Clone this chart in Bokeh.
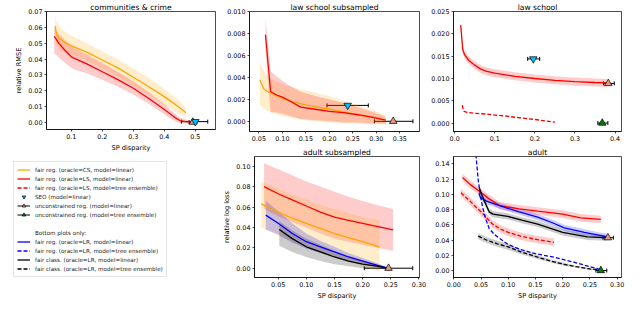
from bokeh.plotting import figure
from bokeh.models import (Range1d, FixedTicker, NumeralTickFormatter, Whisker, TeeHead,
                          ColumnDataSource, Legend, LegendItem)
from bokeh.layouts import row, column
from bokeh.embed import file_html
from bokeh.resources import INLINE

FONT = "DejaVu Sans"
TICK_FS = "6.4px"
LABEL_FS = "6.6px"
TITLE_FS = "7.6px"
LEG_FS = "5.6px"

C_CS = "#ffa500"
C_LS = "#ff0000"
C_LR = "#0000ff"
C_CL = "#000000"
C_SEO = "#00bfff"
C_UNC = "#e9967a"
C_UNC_T = "#008000"

# ---------------- communities & crime ----------------
cc_cs_x = [0.048, 0.052, 0.06, 0.075, 0.1, 0.15, 0.2, 0.25, 0.3, 0.35, 0.4, 0.44, 0.47]
cc_cs_y = [0.061, 0.056, 0.0535, 0.051, 0.0485, 0.0445, 0.0395, 0.0345, 0.0285, 0.0225, 0.0162, 0.0105, 0.0060]
cc_cs_lo = [0.053, 0.049, 0.047, 0.045, 0.043, 0.039, 0.034, 0.029, 0.023, 0.017, 0.011, 0.006, 0.003]
cc_cs_hi = [0.068, 0.064, 0.061, 0.058, 0.055, 0.050, 0.045, 0.040, 0.034, 0.028, 0.021, 0.015, 0.009]

cc_ls_x = [0.045, 0.05, 0.06, 0.08, 0.1, 0.11, 0.15, 0.2, 0.25, 0.3, 0.35, 0.4, 0.43, 0.45, 0.47, 0.49]
cc_ls_y = [0.0545, 0.0530, 0.0500, 0.0455, 0.0415, 0.0405, 0.0370, 0.0320, 0.0270, 0.0215, 0.0150, 0.0080, 0.0035, 0.0010, 0.0003, 0.0000]
cc_ls_lo = [0.0440, 0.0430, 0.0410, 0.0375, 0.0345, 0.0335, 0.0310, 0.0270, 0.0225, 0.0175, 0.0115, 0.0050, 0.0010, -0.0005, -0.0008, -0.0010]
cc_ls_hi = [0.0600, 0.0585, 0.0560, 0.0520, 0.0480, 0.0470, 0.0430, 0.0375, 0.0320, 0.0260, 0.0190, 0.0115, 0.0060, 0.0030, 0.0015, 0.0010]

cc_seo = dict(x=[0.500], y=[0.0003], xl=[0.455], xu=[0.540])
cc_unc = dict(x=[0.492], y=[0.0000], xl=[0.480], xu=[0.505])

# ---------------- law school subsampled ----------------
lss_ls_x = [0.064, 0.075, 0.088, 0.1, 0.114, 0.139, 0.17, 0.2, 0.23, 0.26, 0.288, 0.31, 0.32]
lss_ls_y = [0.0079, 0.0027, 0.0024, 0.0022, 0.0019, 0.0013, 0.0011, 0.0009, 0.0008, 0.0006, 0.0004, 0.0002, 0.0001]
lss_ls_lo = [0.0064, 0.0008, 0.0008, 0.0007, 0.0005, 0.0002, 0.0001, 0.0000, -0.0001, -0.0001, -0.0002, -0.0002, -0.0002]
lss_ls_hi = [0.0094, 0.0046, 0.0041, 0.0037, 0.0033, 0.0027, 0.0023, 0.0020, 0.0017, 0.0013, 0.0009, 0.0006, 0.0004]

lss_cs_x = [0.052, 0.06, 0.065, 0.08, 0.1, 0.12, 0.15, 0.2, 0.25, 0.3, 0.32]
lss_cs_y = [0.0038, 0.0030, 0.0028, 0.0025, 0.0021, 0.0018, 0.0015, 0.0011, 0.0007, 0.0003, 0.0001]
lss_cs_lo = [0.0015, 0.0012, 0.0010, 0.0008, 0.0005, 0.0003, 0.0001, -0.0001, -0.0002, -0.0003, -0.0003]
lss_cs_hi = [0.0053, 0.0047, 0.0043, 0.0038, 0.0034, 0.0031, 0.0028, 0.0023, 0.0016, 0.0009, 0.0005]

lss_seo = dict(x=[0.239], y=[0.00145], xl=[0.195], xu=[0.283])
lss_unc = dict(x=[0.336], y=[0.0], xl=[0.296], xu=[0.378])

# ---------------- law school ----------------
lsc_ls_x = [0.015, 0.02, 0.025, 0.035, 0.05, 0.065, 0.08, 0.1, 0.15, 0.2, 0.25, 0.3, 0.35, 0.38]
lsc_ls_y = [0.0220, 0.0165, 0.0153, 0.0141, 0.0130, 0.0121, 0.0116, 0.0112, 0.0105, 0.0100, 0.0096, 0.0093, 0.0091, 0.0090]
lsc_ls_lo = [0.0217, 0.0157, 0.0144, 0.0132, 0.0121, 0.0112, 0.0107, 0.0103, 0.0096, 0.0091, 0.0087, 0.0084, 0.0082, 0.0081]
lsc_ls_hi = [0.0223, 0.0173, 0.0162, 0.0150, 0.0139, 0.0130, 0.0125, 0.0121, 0.0114, 0.0109, 0.0105, 0.0102, 0.0100, 0.0099]

lsc_lst_x = [0.019, 0.022, 0.03, 0.05, 0.08, 0.1, 0.125, 0.15, 0.2, 0.25]
lsc_lst_y = [0.0040, 0.0027, 0.0024, 0.0022, 0.0020, 0.0018, 0.0016, 0.0013, 0.0008, 0.0002]

lsc_seo = dict(x=[0.196], y=[0.0144], xl=[0.182], xu=[0.212])
lsc_unc = dict(x=[0.383], y=[0.0089], xl=[0.371], xu=[0.398])
lsc_unc_t = dict(x=[0.368], y=[0.0], xl=[0.357], xu=[0.382])

# ---------------- adult subsampled ----------------
ads_ls_x = [0.025, 0.05, 0.075, 0.1, 0.125, 0.15, 0.175, 0.2, 0.225, 0.254]
ads_ls_y = [0.080, 0.073, 0.067, 0.061, 0.055, 0.050, 0.047, 0.044, 0.041, 0.0375]
ads_ls_lo = [0.058, 0.051, 0.045, 0.040, 0.034, 0.029, 0.026, 0.023, 0.020, 0.017]
ads_ls_hi = [0.103, 0.097, 0.091, 0.085, 0.080, 0.075, 0.070, 0.066, 0.062, 0.058]

ads_cs_x = [0.02, 0.05, 0.075, 0.1, 0.125, 0.15, 0.175, 0.2, 0.23]
ads_cs_y = [0.063, 0.055, 0.049, 0.044, 0.039, 0.034, 0.030, 0.026, 0.021]
ads_cs_lo = [0.040, 0.032, 0.026, 0.020, 0.015, 0.010, 0.006, 0.002, -0.003]
ads_cs_hi = [0.085, 0.078, 0.072, 0.067, 0.062, 0.058, 0.054, 0.050, 0.047]

ads_lr_x = [0.028, 0.05, 0.075, 0.1, 0.125, 0.15, 0.175, 0.2, 0.225, 0.245]
ads_lr_y = [0.052, 0.044, 0.034, 0.026, 0.021, 0.016, 0.011, 0.007, 0.003, 0.0]
ads_lr_lo = [0.038, 0.033, 0.025, 0.019, 0.015, 0.011, 0.007, 0.004, 0.001, -0.001]
ads_lr_hi = [0.066, 0.056, 0.044, 0.034, 0.027, 0.021, 0.015, 0.010, 0.005, 0.001]

ads_cl_x = [0.052, 0.075, 0.1, 0.125, 0.15, 0.175, 0.2, 0.225, 0.243]
ads_cl_y = [0.038, 0.029, 0.021, 0.016, 0.011, 0.007, 0.004, 0.002, 0.0]
ads_cl_lo = [0.022, 0.016, 0.011, 0.007, 0.004, 0.002, 0.000, -0.001, -0.001]
ads_cl_hi = [0.046, 0.037, 0.029, 0.023, 0.017, 0.012, 0.008, 0.004, 0.001]

ads_unc = dict(x=[0.246], y=[0.0], xl=[0.203], xu=[0.289])

# ---------------- adult ----------------
ad_ls_x = [0.016, 0.03, 0.047, 0.065, 0.085, 0.12, 0.154, 0.2, 0.233, 0.27]
ad_ls_y = [0.122, 0.113, 0.104, 0.094, 0.085, 0.081, 0.078, 0.074, 0.069, 0.067]
ad_ls_lo = [0.117, 0.108, 0.099, 0.089, 0.080, 0.076, 0.073, 0.069, 0.064, 0.062]
ad_ls_hi = [0.127, 0.118, 0.109, 0.099, 0.090, 0.086, 0.083, 0.079, 0.074, 0.072]

ad_lst_x = [0.013, 0.03, 0.041, 0.05, 0.071, 0.087, 0.1, 0.123, 0.15, 0.184]
ad_lst_y = [0.102, 0.091, 0.083, 0.077, 0.061, 0.054, 0.050, 0.045, 0.041, 0.037]
ad_lst_lo = [0.097, 0.086, 0.078, 0.072, 0.056, 0.049, 0.045, 0.040, 0.036, 0.032]
ad_lst_hi = [0.107, 0.096, 0.088, 0.082, 0.066, 0.059, 0.055, 0.050, 0.046, 0.042]

ad_lr_x = [0.046, 0.049, 0.06, 0.084, 0.12, 0.154, 0.18, 0.203, 0.24, 0.282]
ad_lr_y = [0.101, 0.096, 0.091, 0.085, 0.077, 0.070, 0.063, 0.056, 0.050, 0.044]
ad_lr_lo = [0.097, 0.092, 0.087, 0.081, 0.073, 0.066, 0.059, 0.052, 0.046, 0.040]
ad_lr_hi = [0.105, 0.100, 0.095, 0.089, 0.081, 0.074, 0.067, 0.060, 0.054, 0.048]

ad_lrt_x = [0.040, 0.041, 0.045, 0.049, 0.053, 0.059, 0.065, 0.075, 0.1, 0.125, 0.15, 0.184, 0.22, 0.25, 0.27]
ad_lrt_y = [0.160, 0.149, 0.118, 0.098, 0.083, 0.067, 0.055, 0.047, 0.034, 0.027, 0.022, 0.0175, 0.011, 0.005, 0.001]

ad_cl_x = [0.047, 0.055, 0.065, 0.072, 0.099, 0.125, 0.154, 0.2, 0.245, 0.279]
ad_cl_y = [0.108, 0.093, 0.077, 0.074, 0.071, 0.066, 0.061, 0.050, 0.044, 0.043]
ad_cl_lo = [0.104, 0.089, 0.073, 0.070, 0.067, 0.062, 0.057, 0.046, 0.040, 0.039]
ad_cl_hi = [0.112, 0.097, 0.081, 0.078, 0.075, 0.070, 0.065, 0.054, 0.048, 0.047]

ad_clt_x = [0.045, 0.06, 0.08, 0.1, 0.125, 0.154, 0.175, 0.203, 0.225, 0.25, 0.265]
ad_clt_y = [0.045, 0.040, 0.035, 0.031, 0.024, 0.0175, 0.013, 0.008, 0.005, 0.002, 0.001]
ad_clt_lo = [0.041, 0.036, 0.031, 0.027, 0.021, 0.015, 0.011, 0.006, 0.004, 0.001, 0.000]
ad_clt_hi = [0.049, 0.044, 0.039, 0.035, 0.027, 0.020, 0.015, 0.010, 0.006, 0.003, 0.002]

ad_unc = dict(x=[0.283], y=[0.043], xl=[0.274], xu=[0.293])
ad_unc_t = dict(x=[0.270], y=[0.0], xl=[0.261], xu=[0.281])

# ---------------- axes: ranges and ticks ----------------
cc_xr, cc_yr = (0.02, 0.565), (-0.0047, 0.0703)
lss_xr, lss_yr = (0.030, 0.392), (-0.00093, 0.01002)
lsc_xr, lsc_yr = (-0.003, 0.416), (-0.0019, 0.02505)
ads_xr, ads_yr = (0.008, 0.301), (-0.0091, 0.1095)
ad_xr, ad_yr = (-0.0005, 0.308), (-0.0092, 0.1496)

cc_xt = [0.1, 0.2, 0.3, 0.4, 0.5]
cc_yt = [0.0, 0.01, 0.02, 0.03, 0.04, 0.05, 0.06, 0.07]
lss_xt = [0.05, 0.10, 0.15, 0.20, 0.25, 0.30, 0.35]
lss_yt = [0.0, 0.002, 0.004, 0.006, 0.008, 0.010]
lsc_xt = [0.0, 0.1, 0.2, 0.3, 0.4]
lsc_yt = [0.0, 0.005, 0.010, 0.015, 0.020, 0.025]
ads_xt = [0.05, 0.10, 0.15, 0.20, 0.25, 0.30]
ads_yt = [0.0, 0.02, 0.04, 0.06, 0.08, 0.10]
ad_xt = [0.0, 0.05, 0.10, 0.15, 0.20, 0.25, 0.30]
ad_yt = [0.0, 0.02, 0.04, 0.06, 0.08, 0.10, 0.12, 0.14]


def no_align(p):
    try:
        p.frame_align = False
    except Exception:
        pass


def make_panel(width, height, borders, xr, yr, title, xt, xfmt, yt, yfmt, xlabel=None, ylabel=None):
    l, r, t, b = borders
    p = figure(width=width, height=height, x_range=Range1d(*xr), y_range=Range1d(*yr),
               output_backend="svg", toolbar_location=None, title=title,
               min_border_left=l, min_border_right=r, min_border_top=t, min_border_bottom=b)
    no_align(p)
    p.title.text_font = FONT
    p.title.text_font_size = TITLE_FS
    p.title.text_font_style = "normal"
    p.title.text_color = "black"
    p.title.align = "center"
    p.title.standoff = 0
    p.xgrid.visible = False
    p.ygrid.visible = False
    p.outline_line_color = "black"
    p.outline_line_width = 0.7
    p.outline_line_alpha = 1.0
    p.background_fill_color = "white"
    p.border_fill_color = "white"
    for ax in (p.xaxis[0], p.yaxis[0]):
        ax.major_tick_out = 2
        ax.major_tick_in = 0
        ax.minor_tick_out = 0
        ax.minor_tick_in = 0
        ax.major_tick_line_color = "black"
        ax.major_tick_line_width = 0.7
        ax.axis_line_color = "black"
        ax.axis_line_width = 0.7
        ax.major_label_text_font = FONT
        ax.major_label_text_font_size = TICK_FS
        ax.major_label_text_color = "black"
        ax.major_label_standoff = 2
        ax.axis_label_text_font = FONT
        ax.axis_label_text_font_size = LABEL_FS
        ax.axis_label_text_font_style = "normal"
        ax.axis_label_text_color = "black"
        ax.axis_label_standoff = 2
    p.xaxis[0].ticker = FixedTicker(ticks=xt)
    p.xaxis[0].formatter = NumeralTickFormatter(format=xfmt)
    p.yaxis[0].ticker = FixedTicker(ticks=yt)
    p.yaxis[0].formatter = NumeralTickFormatter(format=yfmt)
    if xlabel:
        p.xaxis[0].axis_label = xlabel
    if ylabel:
        p.yaxis[0].axis_label = ylabel
    return p


def band(p, x, lo, hi, color):
    p.varea(x=x, y1=lo, y2=hi, fill_color=color, fill_alpha=0.2)


def curve(p, x, y, color, dash="solid"):
    p.line(x, y, line_color=color, line_width=1.3, line_dash=dash)


def errpt(p, d, marker, color, size=7.5):
    src = ColumnDataSource(d)
    head = dict(size=4, line_color="black", line_width=1)
    w = Whisker(base="y", lower="xl", upper="xu", dimension="width", source=src,
                line_color="black", line_width=1,
                upper_head=TeeHead(**head), lower_head=TeeHead(**head))
    p.add_layout(w)
    p.scatter("x", "y", source=src, marker=marker, size=size, fill_color=color,
              line_color="black", line_width=0.7)


DASH = "4 2"

# communities & crime
f1 = make_panel(220, 154, (46, 5, 10, 23), cc_xr, cc_yr, "communities & crime",
                cc_xt, "0.0", cc_yt, "0.00", xlabel="SP disparity", ylabel="relative RMSE")
band(f1, cc_cs_x, cc_cs_lo, cc_cs_hi, C_CS)
band(f1, cc_ls_x, cc_ls_lo, cc_ls_hi, C_LS)
curve(f1, cc_cs_x, cc_cs_y, C_CS)
curve(f1, cc_ls_x, cc_ls_y, C_LS)
errpt(f1, cc_unc, "triangle", C_UNC)
errpt(f1, cc_seo, "inverted_triangle", C_SEO)

# law school subsampled
f2 = make_panel(206, 143, (29, 7, 10, 12), lss_xr, lss_yr, "law school subsampled",
                lss_xt, "0.00", lss_yt, "0.000")
band(f2, lss_cs_x, lss_cs_lo, lss_cs_hi, C_CS)
band(f2, lss_ls_x, lss_ls_lo, lss_ls_hi, C_LS)
curve(f2, lss_cs_x, lss_cs_y, C_CS)
curve(f2, lss_ls_x, lss_ls_y, C_LS)
errpt(f2, lss_seo, "inverted_triangle", C_SEO)
errpt(f2, lss_unc, "triangle", C_UNC)

# law school
f3 = make_panel(206, 143, (27, 11, 10, 12), lsc_xr, lsc_yr, "law school",
                lsc_xt, "0.0", lsc_yt, "0.000")
band(f3, lsc_ls_x, lsc_ls_lo, lsc_ls_hi, C_LS)
curve(f3, lsc_ls_x, lsc_ls_y, C_LS)
curve(f3, lsc_lst_x, lsc_lst_y, C_LS, DASH)
errpt(f3, lsc_seo, "inverted_triangle", C_SEO)
errpt(f3, lsc_unc, "triangle", C_UNC)
errpt(f3, lsc_unc_t, "triangle", C_UNC_T)

# adult subsampled
f5 = make_panel(206, 159, (29, 7, 13, 25), ads_xr, ads_yr, "adult subsampled",
                ads_xt, "0.00", ads_yt, "0.00", xlabel="SP disparity", ylabel="relative log loss")
band(f5, ads_ls_x, ads_ls_lo, ads_ls_hi, C_LS)
band(f5, ads_cs_x, ads_cs_lo, ads_cs_hi, C_CS)
band(f5, ads_lr_x, ads_lr_lo, ads_lr_hi, C_LR)
band(f5, ads_cl_x, ads_cl_lo, ads_cl_hi, C_CL)
curve(f5, ads_ls_x, ads_ls_y, C_LS)
curve(f5, ads_cs_x, ads_cs_y, C_CS)
curve(f5, ads_lr_x, ads_lr_y, C_LR)
curve(f5, ads_cl_x, ads_cl_y, C_CL)
errpt(f5, ads_unc, "triangle", C_UNC)

# adult
f6 = make_panel(206, 159, (27, 11, 13, 25), ad_xr, ad_yr, "adult",
                ad_xt, "0.00", ad_yt, "0.00", xlabel="SP disparity")
band(f6, ad_ls_x, ad_ls_lo, ad_ls_hi, C_LS)
band(f6, ad_lst_x, ad_lst_lo, ad_lst_hi, C_LS)
band(f6, ad_lr_x, ad_lr_lo, ad_lr_hi, C_LR)
band(f6, ad_cl_x, ad_cl_lo, ad_cl_hi, C_CL)
band(f6, ad_clt_x, ad_clt_lo, ad_clt_hi, C_CL)
curve(f6, ad_ls_x, ad_ls_y, C_LS)
curve(f6, ad_lst_x, ad_lst_y, C_LS, DASH)
curve(f6, ad_lr_x, ad_lr_y, C_LR)
curve(f6, ad_lrt_x, ad_lrt_y, C_LR, DASH)
curve(f6, ad_cl_x, ad_cl_y, C_CL)
curve(f6, ad_clt_x, ad_clt_y, C_CL, DASH)
errpt(f6, ad_unc, "triangle", C_UNC)
errpt(f6, ad_unc_t, "triangle", C_UNC_T)

# legend panel
leg_labels = [
    "fair reg. (oracle=CS, model=linear)",
    "fair reg. (oracle=LS, model=linear)",
    "fair reg. (oracle=LS, model=tree ensemble)",
    "SEO (model=linear)",
    "unconstrained reg. (model=linear)",
    "unconstrained reg. (model=tree ensemble)",
    " ",
    "Bottom plots only:",
    "fair reg. (oracle=LR, model=linear)",
    "fair reg. (oracle=LR, model=tree ensemble)",
    "fair class. (oracle=LR, model=linear)",
    "fair class. (oracle=LR, model=tree ensemble)",
]

f4 = figure(width=220, height=148, x_range=Range1d(0, 1), y_range=Range1d(0, 1),
            output_backend="svg", toolbar_location=None,
            x_axis_location=None, y_axis_location=None,
            min_border_left=13, min_border_top=7, min_border_right=0, min_border_bottom=0)
no_align(f4)
f4.outline_line_color = None
f4.grid.visible = False
f4.background_fill_color = "white"
f4.border_fill_color = "white"


def handle():
    # one undefined point: nothing is drawn in the plot, only the legend handle
    return ColumnDataSource(dict(x=[float("nan")], y=[float("nan")]))


r_cs = f4.line("x", "y", source=handle(), line_color=C_CS, line_width=1.3)
r_ls = f4.line("x", "y", source=handle(), line_color=C_LS, line_width=1.3)
r_lst = f4.line("x", "y", source=handle(), line_color=C_LS, line_width=1.3, line_dash=DASH)
r_seo = f4.scatter("x", "y", source=handle(), marker="inverted_triangle", size=7.5,
                   fill_color=C_SEO, line_color="black", line_width=0.7)
r_eb = f4.line("x", "y", source=handle(), line_color="black", line_width=1)
r_unc = f4.scatter("x", "y", source=handle(), marker="triangle", size=7.5,
                   fill_color=C_UNC, line_color="black", line_width=0.7)
r_unct = f4.scatter("x", "y", source=handle(), marker="triangle", size=7.5,
                    fill_color=C_UNC_T, line_color="black", line_width=0.7)
r_none = f4.line("x", "y", source=handle(), line_alpha=0)
r_lr = f4.line("x", "y", source=handle(), line_color=C_LR, line_width=1.3)
r_lrt = f4.line("x", "y", source=handle(), line_color=C_LR, line_width=1.3, line_dash=DASH)
r_cl = f4.line("x", "y", source=handle(), line_color=C_CL, line_width=1.3)
r_clt = f4.line("x", "y", source=handle(), line_color=C_CL, line_width=1.3, line_dash=DASH)

leg_renderers = [[r_cs], [r_ls], [r_lst], [r_seo], [r_eb, r_unc], [r_eb, r_unct],
                 [r_none], [r_none], [r_lr], [r_lrt], [r_cl], [r_clt]]

legend = Legend(items=[LegendItem(label=lab, renderers=rs) for lab, rs in zip(leg_labels, leg_renderers)],
                location="top_left", margin=0, padding=3, spacing=0,
                glyph_height=9, label_height=9, glyph_width=13, label_standoff=5,
                label_text_font=FONT, label_text_font_size=LEG_FS, label_text_color="#222222",
                border_line_color="#cccccc", border_line_width=1,
                background_fill_color="white", background_fill_alpha=1.0)
f4.add_layout(legend)

layout = row(column(f1, f4), column(f2, f5), column(f3, f6))

open("out.html", "w").write(file_html(layout, INLINE))
